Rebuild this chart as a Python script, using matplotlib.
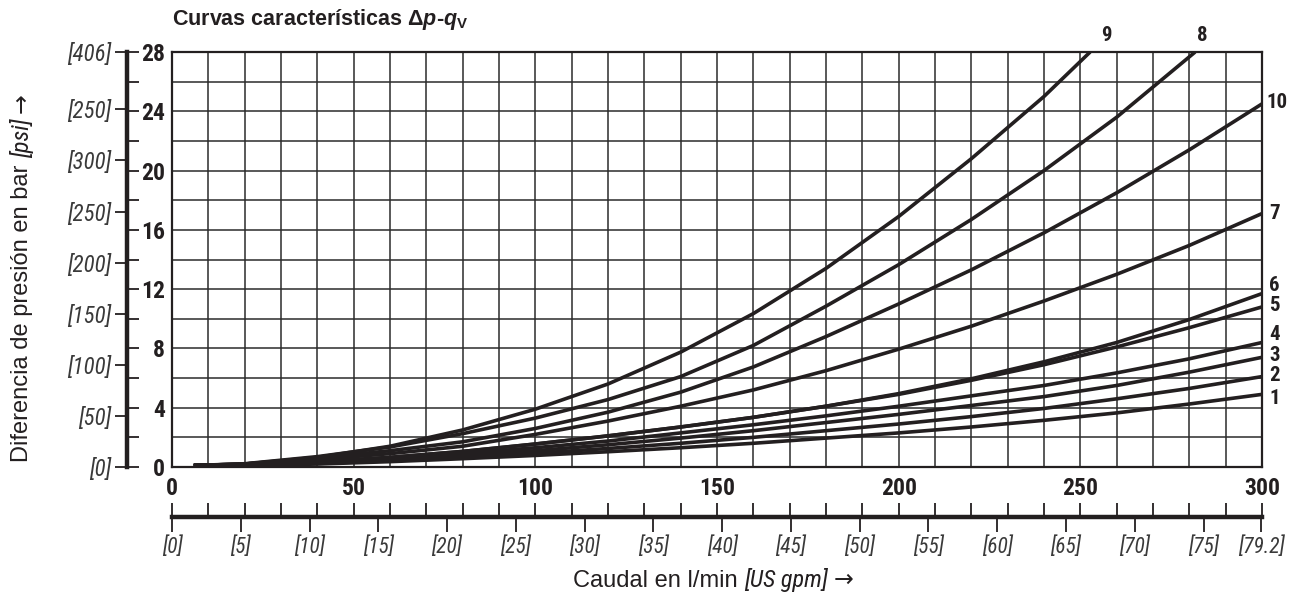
import matplotlib
matplotlib.use("Agg")
import matplotlib.pyplot as plt

# datos (caudal l/min, diferencia de presion bar)
q = [6, 20, 40, 60, 80, 100, 120, 140, 160, 180, 200, 220, 240, 260, 280, 300]
q8 = [6, 20, 40, 60, 80, 100, 120, 140, 160, 180, 200, 220, 240, 260, 281.6]
q9 = [6, 20, 40, 60, 80, 100, 120, 140, 160, 180, 200, 220, 240, 252.7]

p1 = [0.1, 0.1, 0.2, 0.36, 0.56, 0.78, 1.03, 1.3, 1.6, 1.95, 2.3, 2.7, 3.15, 3.65, 4.25, 4.9]
p2 = [0.1, 0.11, 0.24, 0.42, 0.66, 0.93, 1.25, 1.6, 2.0, 2.45, 2.9, 3.4, 3.95, 4.6, 5.3, 6.1]
p3 = [0.1, 0.12, 0.27, 0.48, 0.78, 1.1, 1.5, 1.95, 2.45, 3.0, 3.55, 4.15, 4.75, 5.5, 6.4, 7.4]
p4 = [0.1, 0.12, 0.3, 0.55, 0.9, 1.3, 1.75, 2.3, 2.85, 3.45, 4.1, 4.8, 5.5, 6.35, 7.3, 8.4]
p5 = [0.1, 0.15, 0.35, 0.65, 1.05, 1.55, 2.1, 2.7, 3.35, 4.1, 4.9, 5.85, 6.9, 8.1, 9.4, 10.8]
p6 = [0.1, 0.15, 0.35, 0.65, 1.05, 1.55, 2.1, 2.7, 3.35, 4.1, 4.95, 5.95, 7.1, 8.4, 9.95, 11.7]
p7 = [0.1, 0.2, 0.5, 0.9, 1.4, 2.2, 3.1, 4.1, 5.2, 6.5, 7.95, 9.5, 11.2, 13.0, 14.95, 17.1]
p8 = [0.1, 0.22, 0.7, 1.35, 2.25, 3.3, 4.55, 6.1, 8.2, 10.85, 13.65, 16.7, 20.0, 23.6, 28.0]
p9 = [0.1, 0.2, 0.65, 1.4, 2.5, 3.9, 5.6, 7.75, 10.35, 13.4, 16.9, 20.8, 25.0, 28.0]
p10 = [0.1, 0.2, 0.6, 1.1, 1.7, 2.6, 3.7, 5.05, 6.75, 8.8, 11.0, 13.3, 15.8, 18.5, 21.4, 24.5]

curvas = [("1", q, p1), ("2", q, p2), ("3", q, p3), ("4", q, p4), ("5", q, p5),
          ("6", q, p6), ("7", q, p7), ("8", q8, p8), ("9", q9, p9), ("10", q, p10)]

# desplazamiento de las etiquetas (puntos)
offsets = {"1": (5, -3), "2": (5, 1), "3": (5, 1), "4": (5, 6), "5": (5, 1),
           "6": (5, 6), "7": (5, 0), "8": (5, 12), "9": (12, 12), "10": (3, 1)}

xticks_lmin = [0, 50, 100, 150, 200, 250, 300]
gpm_vals = [0, 5, 10, 15, 20, 25, 30, 35, 40, 45, 50, 55, 60, 65, 70, 75, 79.2]
gpm_labels = ["[0]", "[5]", "[10]", "[15]", "[20]", "[25]", "[30]", "[35]", "[40]",
              "[45]", "[50]", "[55]", "[60]", "[65]", "[70]", "[75]", "[79.2]"]
bar_ticks = [0, 4, 8, 12, 16, 20, 24, 28]
psi_vals = [0, 50, 100, 150, 200, 250, 300, 350, 406]
psi_labels = ["[0]", "[50]", "[100]", "[150]", "[200]", "[250]", "[300]", "[250]", "[406]"]

NARROW = ["Liberation Sans Narrow", "DejaVu Sans Condensed", "Roboto Condensed", "Liberation Sans"]
SANS = ["Liberation Sans", "DejaVu Sans"]
INK = "#231f20"
GRIS = "#3a3a3a"

plt.rcParams["mathtext.fontset"] = "custom"
plt.rcParams["mathtext.it"] = "Liberation Sans:italic:bold"
plt.rcParams["mathtext.rm"] = "Liberation Sans:bold"
plt.rcParams["mathtext.bf"] = "Liberation Sans:bold"

W, H = 1307, 599
fig = plt.figure(figsize=(W / 100, H / 100), dpi=100)

x0, x1, y_top, y_bot = 172, 1262, 52, 467
ax = fig.add_axes([x0 / W, 1 - y_bot / H, (x1 - x0) / W, (y_bot - y_top) / H])
ax.set_xlim(0, 300)
ax.set_ylim(0, 28)

ax.set_xticks(xticks_lmin)
ax.set_xticks(range(0, 301, 10), minor=True)
ax.set_yticks(range(0, 29, 2))
ax.set_yticklabels([])
ax.grid(True, which="both", color="#2b2b2b", linewidth=1.1)
ax.tick_params(axis="both", which="both", length=0)
ax.tick_params(axis="x", pad=7)
for lbl in ax.get_xticklabels():
    lbl.set_fontfamily(NARROW)
    lbl.set_fontweight("bold")
    lbl.set_fontsize(17)
    lbl.set_color(INK)
for s in ax.spines.values():
    s.set_linewidth(1.6)
    s.set_color(INK)

for nombre, xs, ys in curvas:
    ax.plot(xs, ys, color=INK, linewidth=2.6, solid_capstyle="butt",
            solid_joinstyle="round", zorder=3)
    dx, dy = offsets[nombre]
    ax.annotate(nombre, (xs[-1], ys[-1]), xytext=(dx, dy), textcoords="offset points",
                ha="center" if nombre in ("8", "9") else "left", va="center",
                fontfamily=NARROW, fontweight="bold", fontsize=15, color=INK,
                annotation_clip=False)

# eje de presion (bar / psi) separado a la izquierda
axb = fig.add_axes([127 / W, 1 - y_bot / H, 0.0004, (y_bot - y_top) / H])
axb.set_ylim(0, 28)
axb.patch.set_visible(False)
axb.set_xticks([])
for k in ("top", "bottom", "right"):
    axb.spines[k].set_visible(False)
axb.spines["left"].set_linewidth(3.2)
axb.spines["left"].set_color(INK)
axb.set_yticks([v / 14.5038 for v in psi_vals])
axb.set_yticklabels(psi_labels, fontfamily=NARROW, style="italic", fontsize=16.5, color=GRIS)
axb.tick_params(axis="y", direction="out", length=9, width=1.3, color=INK, pad=2)

axb2 = axb.twinx()
axb2.set_ylim(0, 28)
for k in ("top", "bottom", "left", "right"):
    axb2.spines[k].set_visible(False)
axb2.set_yticks(range(0, 29, 2))
axb2.set_yticklabels([str(v) if v in bar_ticks else "" for v in range(0, 29, 2)],
                     fontfamily=NARROW, fontweight="bold", fontsize=17, color=INK)
axb2.tick_params(axis="y", direction="out", length=8, width=1.3, color=INK, pad=19)
for lbl in axb2.get_yticklabels():
    lbl.set_horizontalalignment("right")

# eje de caudal en US gpm
yg = 517
axg = fig.add_axes([x0 / W, 1 - yg / H, (x1 - x0) / W, 0.0004])
axg.set_xlim(0, 300)
axg.patch.set_visible(False)
axg.set_yticks([])
for k in ("top", "left", "right"):
    axg.spines[k].set_visible(False)
axg.spines["bottom"].set_linewidth(3.2)
axg.spines["bottom"].set_color(INK)
axg.set_xticks([g * 3.78541 for g in gpm_vals])
axg.set_xticklabels(gpm_labels, fontfamily=NARROW, style="italic", fontsize=15.5, color=GRIS)
axg.tick_params(axis="x", direction="out", length=11, width=1.3, color=INK, pad=3)

axg2 = axg.twiny()
axg2.set_xlim(0, 300)
for k in ("top", "bottom", "left", "right"):
    axg2.spines[k].set_visible(False)
axg2.set_xticks(range(0, 301, 10))
axg2.set_xticklabels([])
axg2.tick_params(axis="x", direction="out", length=10, width=1.3, color=INK)
axg2.xaxis.set_ticks_position("top")

# titulo
fig.text(x0 / W, 1 - 20 / H, r"Curvas características $\mathit{\Delta p}$-$\mathit{q}_{\mathrm{V}}$",
         fontfamily=SANS, fontweight="bold", fontsize=15.5, color=INK, va="center", ha="left")

# rotulo eje x
tx = fig.text(573 / W, 1 - 581 / H, "Caudal en l/min ", fontfamily=SANS,
              fontsize=17, color=INK, ha="left", va="center")
t_us = ax.annotate("[US gpm] ", xy=(1, 0), xycoords=tx, ha="left", va="bottom",
                   fontfamily=NARROW, style="italic", fontsize=17.5, color=INK)
ax.annotate("\u2192", xy=(1, 0), xycoords=t_us, ha="left", va="bottom",
            fontfamily=["DejaVu Sans"], fontsize=17, color=INK)

# rotulo eje y
ty = fig.text(22 / W, 1 - 462 / H, "Diferencia de presión en bar ", fontfamily=SANS,
              fontsize=17, color=INK, rotation=90, ha="center", va="bottom")
ty2 = ax.annotate("[psi] ", xy=(0.5, 1), xycoords=ty, ha="center", va="bottom", rotation=90,
                  fontfamily=NARROW, style="italic", fontsize=17.5, color=INK)
ax.annotate("\u2192", xy=(0.5, 1), xycoords=ty2, ha="center", va="bottom", rotation=90,
            fontfamily=["DejaVu Sans"], fontsize=17, color=INK)

fig.savefig("out.png", dpi=100)
